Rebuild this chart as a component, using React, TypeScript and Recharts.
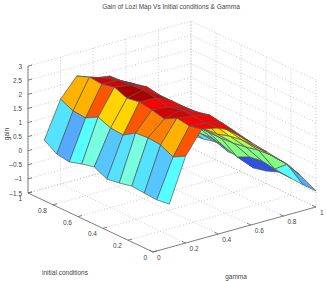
import { Scatter, ScatterChart, XAxis, YAxis } from 'recharts'

const WIDTH = 327
const HEIGHT = 281

const title = 'Gain of Lozi Map Vs Initial conditions & Gamma'
const gammaTicks = [0, 0.2, 0.4, 0.6, 0.8, 1]
const initialTicks = [0, 0.2, 0.4, 0.6, 0.8, 1]
const gainTicks = [-1.5, -1, -0.5, 0, 0.5, 1, 1.5, 2, 2.5, 3]

// surface grid
const gammaValues = [0.1, 0.2, 0.3, 0.4, 0.5, 0.6, 0.7, 0.8, 0.9, 1]
const initialValues = [1, 0.9, 0.8, 0.7, 0.6, 0.5, 0.4, 0.3, 0.2, 0.1, 0]

// one row per gamma value, one column per initial condition
const gain = [
  [0.22, -0.07, -0.14, 0, 0.1, -0.12, -0.05, 0.05, 0.01, -0.02, 0.04],
  [1.51, 1.3, 1.26, 1.5, 1.32, 1.28, 1.56, 1.6, 1.56, 1.34, 1.58],
  [2.17, 2.34, 2.3, 2.4, 2.22, 2.29, 2.22, 2.11, 2.35, 2.28, 2.38],
  [1.94, 2.15, 2.29, 2.32, 2.35, 2.28, 2.17, 2.27, 2.27, 2.23, 2.26],
  [1.85, 1.88, 1.99, 2.09, 2.01, 2.01, 2.01, 2.04, 2.14, 2.07, 1.99],
  [1.4, 1.4, 1.4, 1.45, 1.45, 1.45, 1.45, 1.45, 1.49, 1.48, 1.44],
  [0.7, 0.7, 0.7, 0.7, 0.7, 0.7, 0.73, 0.87, 0.94, 0.93, 0.93],
  [0.2, 0.2, 0.2, 0.25, 0.22, 0.22, 0.25, 0.32, 0.42, 0.45, 0.41],
  [-0.45, -0.42, -0.39, -0.36, -0.47, -0.61, -0.4, -0.34, -0.41, -0.03, -0.2],
  [-1.04, -0.97, -0.87, -1.01, -0.98, -1.16, -1.06, -0.89, -0.9, -0.93, -0.93],
]

const palette = [
  '#2b50f0', '#55aaff', '#55c6ff', '#55e2ff', '#55ffff', '#78ffe0', '#80ff80', '#aaff55',
  '#ffff00', '#ffd500', '#ffb300', '#ff8000', '#ff5500', '#ff0000', '#d50000', '#aa0000',
]

// colour index of each face
const faceColor = [
  [3, 1, 4, 5, 2, 3, 5, 3, 2, 4],
  [10, 10, 12, 9, 9, 12, 11, 11, 10, 12],
  [13, 14, 14, 15, 15, 13, 14, 14, 13, 13],
  [13, 13, 14, 13, 14, 13, 13, 13, 13, 13],
  [13, 13, 13, 13, 13, 13, 13, 13, 13, 13],
  [11, 11, 11, 11, 11, 9, 9, 8, 9, 11],
  [7, 7, 7, 7, 7, 7, 7, 7, 7, 8],
  [6, 6, 6, 6, 6, 6, 6, 6, 6, 6],
  [3, 3, 2, 2, 3, 0, 0, 1, 4, 1],
]

// view of the box: gamma and initial conditions slide along the floor, gain goes straight up
const project = (g: number, ic: number, z: number) => ({
  x: 153 + 163 * g - 125 * ic,
  y: 252 - 45 * g - 59 * ic - 28.2 * (z + 1.5),
})

type Pt = { x: number; y: number }
const zMin = gainTicks[0]
const zMax = gainTicks[gainTicks.length - 1]

const gridLines: Pt[][] = []
gammaTicks.forEach((g) => {
  gridLines.push([project(g, 0, zMin), project(g, 1, zMin), project(g, 1, zMax)])
})
initialTicks.forEach((ic) => {
  gridLines.push([project(0, ic, zMin), project(1, ic, zMin), project(1, ic, zMax)])
})
gainTicks.forEach((z) => {
  gridLines.push([project(0, 1, z), project(1, 1, z), project(1, 0, z)])
})

const axisLines: Pt[][] = [
  [project(0, 1, zMax), project(0, 1, zMin), project(0, 0, zMin), project(1, 0, zMin)],
  ...gainTicks.map((z) => [project(0, 1, z), project(0.025, 1, z)]),
  ...initialTicks.map((ic) => [project(0, ic, zMin), project(0.025, ic, zMin)]),
  ...gammaTicks.map((g) => [project(g, 0, zMin), project(g, 0.03, zMin)]),
]

// back rows first so the front rows paint over them
const faces: { points: Pt[]; fill: string }[] = []
for (let i = gammaValues.length - 2; i >= 0; i--) {
  for (let j = 0; j < initialValues.length - 1; j++) {
    faces.push({
      fill: palette[faceColor[i][j]],
      points: [
        project(gammaValues[i], initialValues[j], gain[i][j]),
        project(gammaValues[i + 1], initialValues[j], gain[i + 1][j]),
        project(gammaValues[i + 1], initialValues[j + 1], gain[i + 1][j + 1]),
        project(gammaValues[i], initialValues[j + 1], gain[i][j + 1]),
      ],
    })
  }
}

type Label = Pt & { text: string; anchor: string; dx: number; dy: number; rotate?: number }
const labels: Label[] = [
  { x: 171, y: 6, text: title, anchor: 'middle', dx: 0, dy: 0 },
  { x: 6, y: 134, text: 'gain', anchor: 'middle', dx: 0, dy: 0, rotate: -90 },
  { x: 65, y: 272, text: 'initial conditions', anchor: 'middle', dx: 0, dy: 0 },
  { x: 236, y: 276, text: 'gamma', anchor: 'middle', dx: 0, dy: 0 },
  ...gainTicks.map((z) => ({ ...project(0, 1, z), text: String(z).replace('-', '\u2013'), anchor: 'end', dx: -6, dy: 0 })),
  ...initialTicks.map((ic) => ({ ...project(0, ic, zMin), text: String(ic), anchor: 'end', dx: -6, dy: 5.5 })),
  ...gammaTicks.map((g) => ({ ...project(g, 0, zMin), text: String(g), anchor: 'start', dx: 4, dy: 5.5 })),
]

const noDot = () => null

function LabelText(props: any) {
  const { cx, cy, payload } = props
  const x = cx + payload.dx
  const y = cy + payload.dy
  return (
    <text
      x={x}
      y={y}
      textAnchor={payload.anchor}
      dominantBaseline="central"
      fontFamily="Liberation Sans, Arial, sans-serif"
      fontSize={6.5}
      fill="#444"
      transform={payload.rotate ? `rotate(${payload.rotate} ${x} ${y})` : undefined}
    >
      {payload.text}
    </text>
  )
}

const facePath = (fill: string) => (props: any) => (
  <path
    d={`M${props.points.map((p: Pt) => `${p.x},${p.y}`).join('L')}Z`}
    fill={fill}
    stroke="#555"
    strokeWidth={0.7}
    strokeLinejoin="round"
  />
)

export default function App() {
  return (
    <div style={{ position: 'absolute', left: 0, top: 0, width: WIDTH, height: HEIGHT, background: '#fff' }}>
      <ScatterChart width={WIDTH} height={HEIGHT} margin={{ top: 0, right: 0, bottom: 0, left: 0 }}>
        <XAxis type="number" dataKey="x" domain={[0, WIDTH]} hide allowDataOverflow />
        <YAxis type="number" dataKey="y" domain={[0, HEIGHT]} reversed hide allowDataOverflow width={0} />
        {gridLines.map((line, i) => (
          <Scatter
            key={`grid-${i}`}
            data={line}
            shape={noDot}
            line={{ stroke: '#bdbdbd', strokeWidth: 0.8, strokeDasharray: '1 2' }}
            isAnimationActive={false}
          />
        ))}
        {axisLines.map((line, i) => (
          <Scatter
            key={`axis-${i}`}
            data={line}
            shape={noDot}
            line={{ stroke: '#666', strokeWidth: 0.8 }}
            isAnimationActive={false}
          />
        ))}
        {faces.map((face, i) => (
          <Scatter
            key={`face-${i}`}
            data={face.points}
            shape={noDot}
            line={facePath(face.fill)}
            isAnimationActive={false}
          />
        ))}
        <Scatter data={labels} shape={LabelText} isAnimationActive={false} />
      </ScatterChart>
    </div>
  )
}
